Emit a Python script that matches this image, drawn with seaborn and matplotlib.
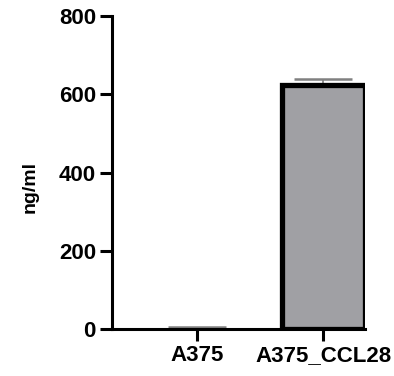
import matplotlib
matplotlib.use("Agg")
import matplotlib.pyplot as plt
import seaborn as sns
import pandas as pd

categories = ["A375", "A375_CCL28"]
means = [1.0, 625.0]
errors = [5.0, 14.0]
yticks = [0, 200, 400, 600, 800]

sns.set_style("ticks")
plt.rcParams['font.family'] = ['Liberation Sans', 'DejaVu Sans']
plt.rcParams['text.color'] = 'black'
plt.rcParams['axes.labelcolor'] = 'black'
plt.rcParams['xtick.color'] = 'black'
plt.rcParams['ytick.color'] = 'black'

fig = plt.figure(figsize=(3.94, 3.76), dpi=100)
ax = fig.add_axes([0.284, 0.125, 0.642, 0.832])

df = pd.DataFrame({"cat": categories, "val": means})
sns.barplot(data=df, x="cat", y="val", ax=ax, color="#a0a0a4", width=0.66,
            edgecolor="black", linewidth=3.8, saturation=1, zorder=2)
ax.patches[0].set_linewidth(0)
ax.patches[0].set_facecolor("none")
ax.errorbar(range(len(categories)), means, yerr=[[0, 0], errors], fmt="none",
            ecolor="#808080", elinewidth=1.2, capsize=21, capthick=1.8, zorder=1)

ax.set_ylim(0, 800)
ax.set_xlim(-0.68, 1.33)
ax.set_yticks(yticks)
ax.set_yticklabels([str(v) for v in yticks], fontsize=16, fontweight="bold")
ax.set_xticks(range(len(categories)))
ax.set_xticklabels(categories, fontsize=16, fontweight="bold")
ax.set_xlabel("")
ax.set_ylabel("ng/ml", fontsize=14, fontweight="heavy")
ax.yaxis.set_label_coords(-0.29, 0.455)

for s in ["top", "right"]:
    ax.spines[s].set_visible(False)
for s in ["left", "bottom"]:
    ax.spines[s].set_linewidth(2.2)
    ax.spines[s].set_color("black")
    ax.spines[s].set_zorder(3)
ax.tick_params(axis="both", width=2.2, length=8.5, color="black", pad=3)

fig.savefig("out.png", dpi=100)
